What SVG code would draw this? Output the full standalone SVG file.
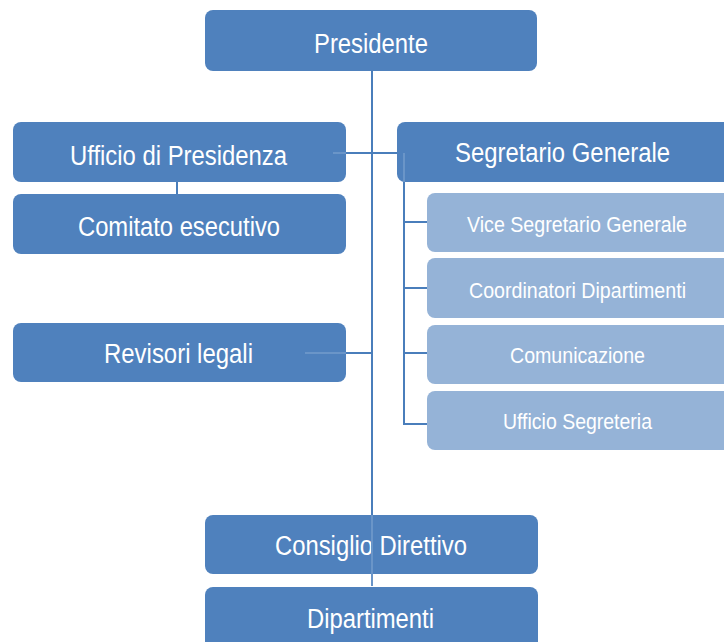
<svg xmlns="http://www.w3.org/2000/svg" width="724" height="642" viewBox="0 0 724 642">
<style>
.dark{fill:#4F81BD}
.light{fill:#95B3D7}
.t{font-family:"Liberation Sans",Arial,sans-serif;fill:#fff;text-anchor:start}
.big{font-size:27px}
.small{font-size:22px}
.ln{stroke:#4A7EBB;stroke-width:2;fill:none}
.faint{stroke:#6A95C8;stroke-width:2;fill:none}
</style>
<rect width="724" height="642" fill="#fff"/>
<g id="connectors">
<path class="ln" d="M372 71V515"/>
<path class="ln" d="M346 153H404"/>
<path class="ln" d="M346 353H372"/>
<path class="ln" d="M177 182V194"/>
<path class="ln" d="M404 182V424H427M404 222H427M404 288H427M404 353H427"/>
</g>
<g id="presidente"><rect class="dark" x="205" y="10" width="332" height="61" rx="8"/><text class="t big" x="314" y="53" textLength="114" lengthAdjust="spacingAndGlyphs">Presidente</text></g>
<g id="ufficio-presidenza"><rect class="dark" x="13" y="122" width="333" height="60" rx="8"/><text class="t big" x="70" y="165" textLength="217" lengthAdjust="spacingAndGlyphs">Ufficio di Presidenza</text></g>
<g id="comitato"><rect class="dark" x="13" y="194" width="333" height="60" rx="8"/><text class="t big" x="78" y="236" textLength="202" lengthAdjust="spacingAndGlyphs">Comitato esecutivo</text></g>
<g id="segretario"><rect class="dark" x="397" y="122" width="335" height="60" rx="8"/><text class="t big" x="455" y="162" textLength="215" lengthAdjust="spacingAndGlyphs">Segretario Generale</text></g>
<g id="vice"><rect class="light" x="427" y="193" width="305" height="59" rx="8"/><text class="t small" x="467" y="232" textLength="220" lengthAdjust="spacingAndGlyphs">Vice Segretario Generale</text></g>
<g id="coordinatori"><rect class="light" x="427" y="258" width="305" height="60" rx="8"/><text class="t small" x="469" y="298" textLength="217" lengthAdjust="spacingAndGlyphs">Coordinatori Dipartimenti</text></g>
<g id="comunicazione"><rect class="light" x="427" y="325" width="305" height="59" rx="8"/><text class="t small" x="510" y="363" textLength="135" lengthAdjust="spacingAndGlyphs">Comunicazione</text></g>
<g id="segreteria"><rect class="light" x="427" y="391" width="305" height="59" rx="8"/><text class="t small" x="503" y="429" textLength="149" lengthAdjust="spacingAndGlyphs">Ufficio Segreteria</text></g>
<g id="revisori"><rect class="dark" x="13" y="323" width="333" height="59" rx="8"/><text class="t big" x="104" y="363" textLength="149" lengthAdjust="spacingAndGlyphs">Revisori legali</text></g>
<g id="consiglio"><rect class="dark" x="205" y="515" width="333" height="59" rx="8"/><text class="t big" x="275" y="555" textLength="192" lengthAdjust="spacingAndGlyphs">Consiglio Direttivo</text></g>
<g id="dipartimenti"><rect class="dark" x="205" y="587" width="333" height="70" rx="8"/><text class="t big" x="307" y="628" textLength="127" lengthAdjust="spacingAndGlyphs">Dipartimenti</text></g>
<g id="overlay-lines">
<path class="faint" d="M372 515V586"/>
<path class="faint" d="M333 153H346M305 353H346M404 153V182"/>
</g>
</svg>
